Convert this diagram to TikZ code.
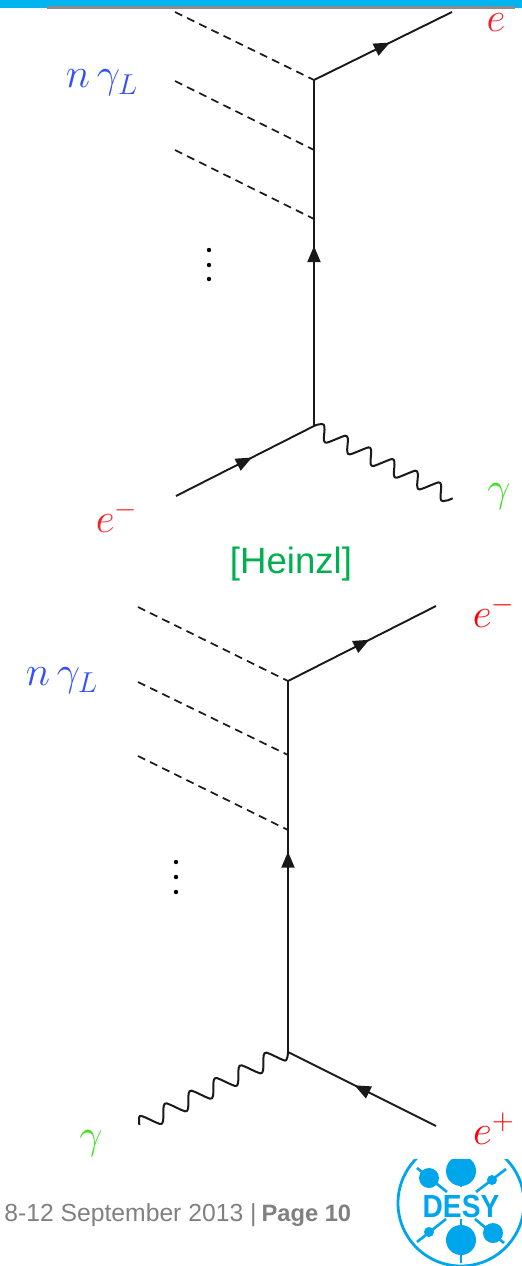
\documentclass[tikz,border=0pt]{standalone}
\usepackage{fontspec}
\newfontfamily\lib{Liberation Sans}
\usetikzlibrary{decorations.markings,arrows.meta,calc}
\definecolor{barblue}{RGB}{0,180,240}
\definecolor{desyblue}{RGB}{0,166,235}
\definecolor{heinzl}{RGB}{0,176,80}
\definecolor{lblue}{RGB}{50,80,250}
\definecolor{lgreen}{RGB}{60,225,30}
\definecolor{lred}{RGB}{250,30,40}
\tikzset{
 fermion/.style={line width=0.95pt,black!90},
 arrowat/.style={postaction={decorate},decoration={markings,mark=at position #1 with {\arrow{Triangle[length=8pt,width=6.5pt]}}}},
 laser/.style={line width=0.85pt,dash pattern=on 4pt off 2.75pt,black!90},
 photon/.style={line width=1pt,black!90,line join=round},
 lab/.style={inner sep=0pt,font=\fontsize{21.5}{24}\selectfont},
 labb/.style={inner sep=0pt,font=\fontsize{22.2}{26}\selectfont},
 vdot/.style={circle,fill=black,inner sep=0pt,minimum size=2.2pt},
 desyline/.style={line width=1.3pt,desyblue},
}
\begin{document}
\begin{tikzpicture}[x=0.5pt,y=-0.5pt]
\useasboundingbox (0,0) rectangle (522,1266);
% header bar
\fill[barblue] (0,0) rectangle (522,8);
\fill[black!45] (47,6) rectangle (515,8.5);
% upper diagram
\coordinate (a1) at (175,12); \coordinate (a2) at (175,81); \coordinate (a3) at (175,150);
\coordinate (v1) at (314,80); \coordinate (v2) at (314,150); \coordinate (v3) at (314,219);
\coordinate (v4) at (314,426); \coordinate (ain) at (176,496); \coordinate (aout) at (452,12);
\coordinate (ag) at (452.7,498.3);
\draw[laser] (a1)--(v1); \draw[laser] (a2)--(v2); \draw[laser] (a3)--(v3);
\draw[fermion,arrowat=0.55] (v1)--(aout) ;
\draw[fermion,arrowat=0.52] (v4)--(v1);
\draw[fermion,arrowat=0.55] (ain)--(v4);
% wavy photon, upper: steep falling flanks, gentle rising flanks
\draw[photon] (v4) .. controls +(2,-1.5) and +(-3,0.5) .. (321.7,424)
  \foreach \i in {0,...,5} {
    .. controls +(7,-1) and +(-7,1.5) .. ++(5,18.7)
    \ifnum\i<5 .. controls +(4,-1) and +(-5,1.5) .. ++(18.33,-7.03) \fi
  } .. controls +(3,0) and +(-3,1.5) .. (ag);
\node[vdot] (d1) at (209,250) {}; \node[vdot] (d2) at (209,265) {}; \node[vdot] (d3) at (209,279) {};
% lower diagram
\coordinate (b1) at (138,607); \coordinate (b2) at (138,682); \coordinate (b3) at (138,756);
\coordinate (w1) at (288,681); \coordinate (w2) at (288,755); \coordinate (w3) at (288,830);
\coordinate (w4) at (288,1052); \coordinate (bout) at (436,606); \coordinate (bpos) at (436,1126);
\coordinate (bg) at (139.3,1125);
\draw[laser] (b1)--(w1); \draw[laser] (b2)--(w2); \draw[laser] (b3)--(w3);
\draw[fermion,arrowat=0.55] (w1)--(bout);
\draw[fermion,arrowat=0.54] (w4)--(w1);
\draw[fermion,arrowat=0.55] (bpos)--(w4);
% wavy photon, lower
\draw[photon] (bg) .. controls +(0,-6) and +(-4,-1) .. (141.7,1116)
  \foreach \i in {0,...,5} {
    .. controls +(5,1.5) and +(-5,-1.5) .. ++(18.3,8)
    \ifnum\i<5 .. controls +(7,2) and +(-7,-2) .. ++(6.7,-20.67) \fi
  } .. controls +(2,0.5) and +(0,3) .. (w4);
\node[vdot] (d4) at (176,862) {}; \node[vdot] (d5) at (176,877) {}; \node[vdot] (d6) at (176,892) {};
% labels
\node[lab,text=lblue] (l1) at (102,83) {$n\,\gamma_L$};
\node[lab,text=lred] (l2) at (496,23) {$e$};
\node[lab,text=lred] (l3) at (117,517) {$e^-$};
\node[lab,text=lgreen] (l4) at (499,497) {$\gamma$};
\node[labb,text=lblue] (l5) at (62,681) {$n\,\gamma_L$};
\node[labb,text=red] (l6) at (494,612) {$e^-$};
\node[lab,text=lgreen] (l7) at (91,1144) {$\gamma$};
\node[labb,text=red] (l8) at (494,1129) {$e^+$};
\node[inner sep=0pt,text=heinzl,font=\lib\fontsize{18.3}{22}\selectfont] (h) at (291,564) {[Heinzl]};
% footer
\node[inner sep=0pt,anchor=base west,text=black!50,font=\lib\fontsize{12.35}{15}\selectfont] (f) at (4,1221) {8-12 September 2013 |\kern2.5pt{\fontsize{11.85}{15}\selectfont\textbf{Page 10}}};
% DESY logo
\begin{scope}
\clip (380,1159) rectangle (522,1266);
\draw[desyblue,line width=1.4pt] (461,1203) circle (63);
\fill[desyblue] (461,1171) circle (15);
\fill[desyblue] (461,1240) circle (15);
\fill[desyblue] (429,1178) circle (10);
\fill[desyblue] (493,1233) circle (10);
\fill[desyblue] (492,1180) circle (5);
\fill[desyblue] (429,1232) circle (5);
\draw[desyline] (417,1168)--(447,1192);
\draw[desyline] (506,1169)--(476,1192);
\draw[desyline] (417,1242)--(446,1219);
\draw[desyline] (475,1219)--(504,1243);
\draw[desyline] (461,1171)--(461,1187);
\draw[desyline] (461,1219)--(461,1263);
\end{scope}
\node[inner sep=0pt,text=desyblue,font=\lib\bfseries\fontsize{16}{18}\selectfont] (desy) at (461,1206) {\scalebox{0.88}[1]{DESY}};
\end{tikzpicture}
\end{document}
